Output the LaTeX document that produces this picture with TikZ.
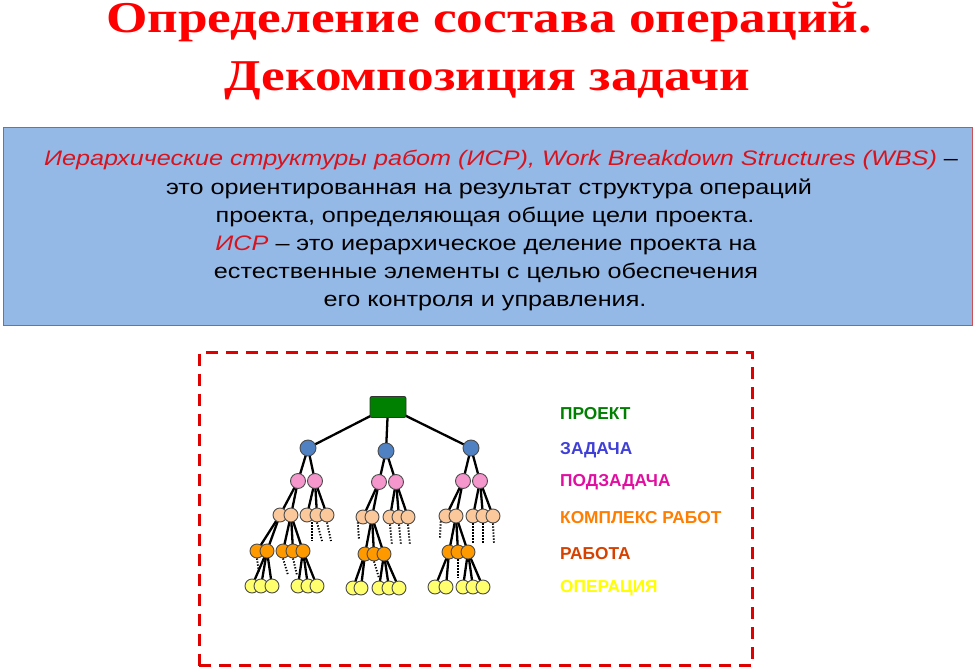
\documentclass[tikz,border=0pt]{standalone}
\usepackage{fontspec}
\setmainfont{Liberation Sans}
\newfontfamily\titlefont[FakeStretch=1.21]{Liberation Serif}
\newfontfamily\boxfont[FakeStretch=1.2]{Liberation Sans}
\usetikzlibrary{backgrounds}
\definecolor{titlered}{RGB}{255,0,0}
\definecolor{isrred}{RGB}{215,20,30}
\definecolor{boxfill}{RGB}{149,185,230}
\definecolor{boxline}{RGB}{205,80,85}
\definecolor{framered}{RGB}{225,0,0}
\definecolor{projgreen}{RGB}{0,128,0}
\definecolor{taskblue}{RGB}{80,130,195}
\definecolor{subpink}{RGB}{245,150,205}
\definecolor{peach}{RGB}{250,200,155}
\definecolor{workorange}{RGB}{255,153,0}
\definecolor{opyellow}{RGB}{255,255,110}
\definecolor{lgreen}{RGB}{0,128,0}
\definecolor{lblue}{RGB}{64,64,215}
\definecolor{lpink}{RGB}{225,15,160}
\definecolor{lorange}{RGB}{255,125,0}
\definecolor{ldark}{RGB}{215,65,0}
\definecolor{lyellow}{RGB}{255,255,0}
\tikzset{
  ttl/.style={font=\titlefont\bfseries\fontsize{44}{50}\selectfont, text=titlered, anchor=base, inner sep=0},
  boxtxt/.style={font=\boxfont\fontsize{21}{24}\selectfont, anchor=base, inner sep=0},
  leg/.style={font=\bfseries\fontsize{17.3}{19}\selectfont, anchor=west, inner sep=0},
  circ/.style={circle, draw=black!70, line width=0.9pt, minimum size=#1, inner sep=0},
  tnode/.style={circ=16pt, fill=taskblue},
  snode/.style={circ=15pt, fill=subpink},
  cnode/.style={circ=14pt, fill=peach},
  onode/.style={circ=14pt, fill=workorange},
  ynode/.style={circ=14pt, fill=opyellow},
  edge/.style={line width=2.3pt, black},
  dots/.style={line width=1.9pt, black, dash pattern=on 1.3pt off 1.7pt},
}
\begin{document}
\begin{tikzpicture}[x=1pt,y=-1pt]
\useasboundingbox (0,0) rectangle (977,669);
% title
\node[ttl] (t1) at (489,33) {Определение состава операций.};
\node[ttl] (t2) at (487,91) {Декомпозиция задачи};
% definition box
\node[draw=boxline, line width=1pt, fill=boxfill, minimum width=969pt, minimum height=198pt, inner sep=0] (defbox) at (487.5,226.5) {};
\node[boxtxt] (l1) at (501,165) {{\color{isrred}\itshape Иерархические структуры работ (ИСР), Work Breakdown Structures (WBS)} –};
\node[boxtxt] (l2) at (489,194) {это ориентированная на результат структура операций};
\node[boxtxt] (l3) at (485,222) {проекта, определяющая общие цели проекта.};
\node[boxtxt] (l4) at (486,250) {{\color{isrred}\itshape ИСР} – это иерархическое деление проекта на};
\node[boxtxt] (l5) at (486,278) {естественные элементы с целью обеспечения};
\node[boxtxt] (l6) at (485,306) {его контроля и управления.};
% dashed frame
\node[draw=framered, line width=3pt, dash pattern=on 12pt off 8pt, minimum width=553pt, minimum height=313pt, inner sep=0] (frame) at (475.5,509) {};
% legend
\node[leg, text=lgreen] (lg1) at (560,414) {ПРОЕКТ};
\node[leg, text=lblue] (lg2) at (560,450) {ЗАДАЧА};
\node[leg, text=lpink] (lg3) at (560,482) {ПОДЗАДАЧА};
\node[leg, text=lorange] (lg4) at (560,518) {КОМПЛЕКС РАБОТ};
\node[leg, text=ldark] (lg5) at (560,554) {РАБОТА};
\node[leg, text=lyellow] (lg6) at (560,588) {ОПЕРАЦИЯ};
% tree root
\node[draw=black!80, line width=0.9pt, fill=projgreen, rounded corners=2pt, minimum width=36pt, minimum height=21pt, inner sep=0] (g) at (388,407) {};
% tree 1
\node[tnode] (b1) at (308,448) {};
\node[snode] (p11) at (298,481) {};
\node[snode] (p12) at (315,481) {};
\node[cnode] (c111) at (280,515) {};
\node[cnode] (c112) at (291,515) {};
\node[cnode] (c121) at (307,515) {};
\node[cnode] (c122) at (317,515) {};
\node[cnode] (c123) at (327,515) {};
\node[onode] (o1a) at (257,551) {};
\node[onode] (o1b) at (267,551) {};
\node[onode] (o1c) at (283,551) {};
\node[onode] (o1d) at (293,551) {};
\node[onode] (o1e) at (303,551) {};
\node[ynode] (y1a) at (252,586) {};
\node[ynode] (y1b) at (261,586) {};
\node[ynode] (y1c) at (272,586) {};
\node[ynode] (y1d) at (298,586) {};
\node[ynode] (y1e) at (308,586) {};
\node[ynode] (y1f) at (317,586) {};
% tree 2
\node[tnode] (b2) at (386,451) {};
\node[snode] (p21) at (379,482) {};
\node[snode] (p22) at (396,482) {};
\node[cnode] (c211) at (363,517) {};
\node[cnode] (c212) at (372,517) {};
\node[cnode] (c221) at (390,517) {};
\node[cnode] (c222) at (399,517) {};
\node[cnode] (c223) at (408,517) {};
\node[onode] (o2a) at (365,554) {};
\node[onode] (o2b) at (374,554) {};
\node[onode] (o2c) at (384,554) {};
\node[ynode] (y2a) at (353,588) {};
\node[ynode] (y2b) at (361,588) {};
\node[ynode] (y2c) at (379,588) {};
\node[ynode] (y2d) at (389,588) {};
\node[ynode] (y2e) at (399,588) {};
% tree 3
\node[tnode] (b3) at (471,448) {};
\node[snode] (p31) at (463,481) {};
\node[snode] (p32) at (480,481) {};
\node[cnode] (c311) at (446,516) {};
\node[cnode] (c312) at (456,516) {};
\node[cnode] (c321) at (473,516) {};
\node[cnode] (c322) at (483,516) {};
\node[cnode] (c323) at (493,516) {};
\node[onode] (o3a) at (449,552) {};
\node[onode] (o3b) at (458,552) {};
\node[onode] (o3c) at (468,552) {};
\node[ynode] (y3a) at (435,587) {};
\node[ynode] (y3b) at (446,587) {};
\node[ynode] (y3c) at (463,587) {};
\node[ynode] (y3d) at (473,587) {};
\node[ynode] (y3e) at (483,587) {};
% free ends of dotted stubs
\coordinate (d1) at (312,541); \coordinate (d2) at (322,541); \coordinate (d3) at (331,541);
\coordinate (d4) at (259,573); \coordinate (d5) at (288,575); \coordinate (d6) at (297,575);
\coordinate (d7) at (359,540); \coordinate (d8) at (392,545); \coordinate (d9) at (401,545); \coordinate (d10) at (410,545);
\coordinate (d11) at (379,578);
\coordinate (d12) at (440,538); \coordinate (d13) at (473,543); \coordinate (d14) at (483,543); \coordinate (d15) at (494,543);
\coordinate (d16) at (458,578);
\begin{scope}[on background layer]
\draw[edge] (g.center) -- (b1.center);
\draw[edge] (g.center) -- (b2.center);
\draw[edge] (g.center) -- (b3.center);
\foreach \a/\b in {b1/p11,b1/p12,p11/c111,p11/c112,p12/c121,p12/c122,p12/c123,
  c111/o1a,c111/o1b,c112/o1c,c112/o1d,c112/o1e,o1b/y1a,o1b/y1b,o1b/y1c,o1e/y1d,o1e/y1e,o1e/y1f,
  b2/p21,b2/p22,p21/c211,p21/c212,p22/c221,p22/c222,p22/c223,c212/o2a,c212/o2b,c212/o2c,
  o2a/y2a,o2a/y2b,o2c/y2c,o2c/y2d,o2c/y2e,
  b3/p31,b3/p32,p31/c311,p31/c312,p32/c321,p32/c322,p32/c323,c312/o3a,c312/o3b,c312/o3c,
  o3a/y3a,o3a/y3b,o3c/y3c,o3c/y3d,o3c/y3e}
  {\draw[edge] (\a.center) -- (\b.center);}
\end{scope}
% dotted stubs
\draw[dots] (c121.south) ++(5pt,0) -- (d1);
\draw[dots] (c122.south) -- (d2);
\draw[dots] (c123.south) -- (d3);
\draw[dots] (o1a.south) -- (d4);
\draw[dots] (o1c.south) -- (d5);
\draw[dots] (o1d.south) -- (d6);
\draw[dots] (c211.south west) -- (d7);
\draw[dots] (c221.south) -- (d8);
\draw[dots] (c222.south) -- (d9);
\draw[dots] (c223.south) -- (d10);
\draw[dots] (o2b.south) -- (d11);
\draw[dots] (c311.south west) -- (d12);
\draw[dots] (c321.south) -- (d13);
\draw[dots] (c322.south) -- (d14);
\draw[dots] (c323.south) -- (d15);
\draw[dots] (o3b.south) -- (d16);
\end{tikzpicture}
\end{document}
